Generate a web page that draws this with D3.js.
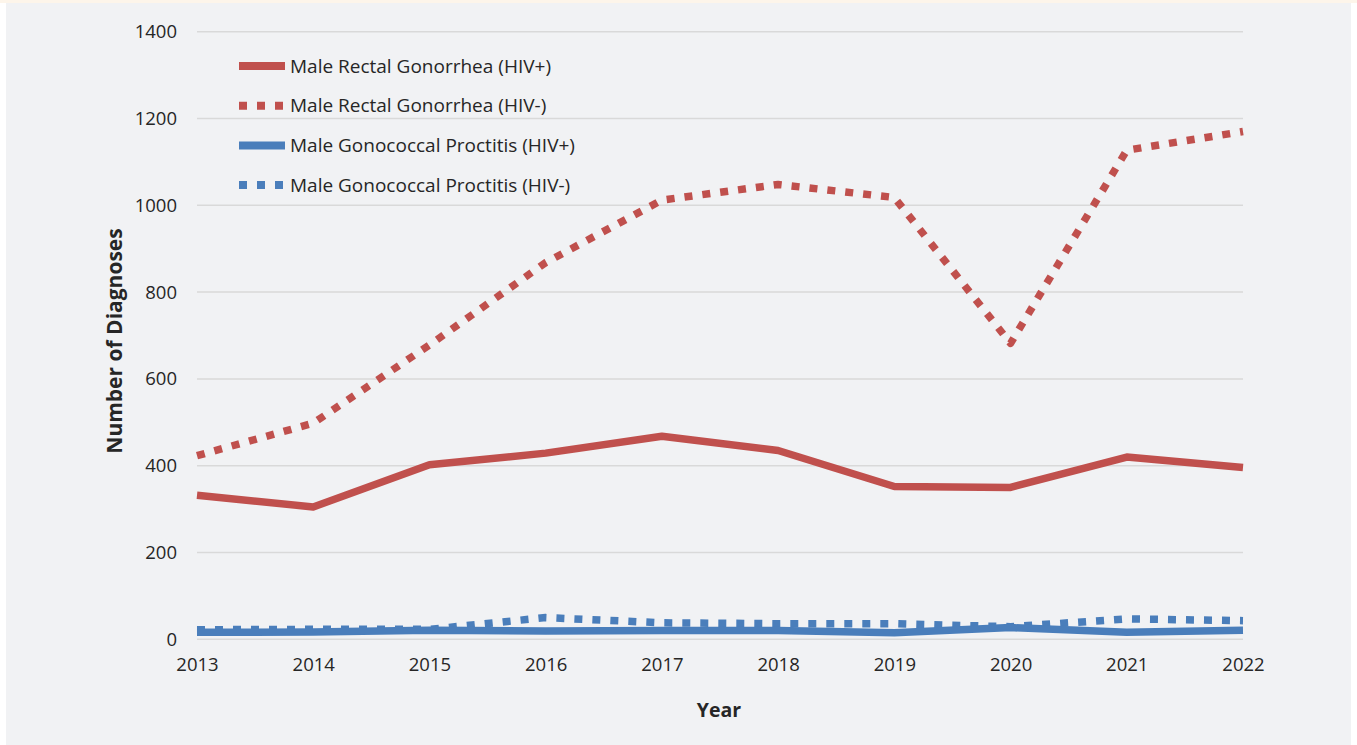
<!DOCTYPE html>
<html>
<head>
<meta charset="utf-8">
<script src="https://cdn.jsdelivr.net/npm/d3@7"></script>
<style>
  body { margin: 0; background: #ffffff; }
  text { font-family: "Open Sans", sans-serif; fill: #262626; }
</style>
</head>
<body>
<script>
// chart data
const years = [2013, 2014, 2015, 2016, 2017, 2018, 2019, 2020, 2021, 2022];
const rectalHivPos = [332, 305, 402, 429, 468, 435, 352, 350, 420, 396];
const rectalHivNeg = [423, 498, 678, 868, 1012, 1048, 1018, 682, 1127, 1170];
const proctitisHivPos = [16, 17, 21, 19, 20, 20, 15, 27, 16, 21];
const proctitisHivNeg = [22, 23, 23, 50, 38, 36, 36, 29, 47, 43];
const yTicks = [0, 200, 400, 600, 800, 1000, 1200, 1400];

const seriesNames = [
  'Male Rectal Gonorrhea (HIV+)',
  'Male Rectal Gonorrhea (HIV-)',
  'Male Gonococcal Proctitis (HIV+)',
  'Male Gonococcal Proctitis (HIV-)'
];

const series = [
  { name: seriesNames[0], values: rectalHivPos, color: '#c0504d', dotted: false },
  { name: seriesNames[1], values: rectalHivNeg, color: '#c0504d', dotted: true },
  { name: seriesNames[2], values: proctitisHivPos, color: '#4a7ebb', dotted: false },
  { name: seriesNames[3], values: proctitisHivNeg, color: '#4a7ebb', dotted: true }
];

const W = 1357, H = 745;
const margin = { top: 31.7, right: 114, bottom: 105.7, left: 197 };
const width = W - margin.left - margin.right,
  height = H - margin.top - margin.bottom;

const svg = d3.select('body').append('svg')
  .attr('width', W)
  .attr('height', H);

// background panel
svg.append('rect')
  .attr('x', 0).attr('y', 0).attr('width', W).attr('height', 3)
  .attr('fill', '#fdf5ea');
svg.append('rect')
  .attr('x', 6).attr('y', 3).attr('width', 1345).attr('height', 742)
  .attr('fill', '#f1f2f4');

const g = svg.append('g')
  .attr('transform', `translate(${margin.left},${margin.top})`);

// scales
const x = d3.scalePoint()
  .domain(years)
  .range([0, width]);
const y = d3.scaleLinear()
  .domain([0, 1400])
  .range([height, 0]);

// gridlines
g.append('g')
  .selectAll('line')
  .data(yTicks)
  .enter().append('line')
  .attr('x1', 0)
  .attr('x2', width)
  .attr('y1', d => y(d))
  .attr('y2', d => y(d))
  .attr('stroke', '#d9d9d9')
  .attr('stroke-width', 1.5);

// y axis labels
const yAxis = g.append('g')
  .call(d3.axisLeft(y).tickValues(yTicks).tickFormat(d3.format('d')).tickSize(0).tickPadding(20));
yAxis.select('.domain').remove();
yAxis.selectAll('text')
  .style('font-size', '18.5px')
  .style('font-family', '"Open Sans", sans-serif')
  .attr('fill', '#262626');

// x axis labels
const xAxis = g.append('g')
  .attr('transform', `translate(0,${height})`)
  .call(d3.axisBottom(x).tickSize(0).tickPadding(19));
xAxis.select('.domain').remove();
xAxis.selectAll('text')
  .style('font-size', '18.5px')
  .style('font-family', '"Open Sans", sans-serif')
  .attr('fill', '#262626');

// lines (dotted first so solid sits on top)
const line = d3.line()
  .x((d, i) => x(years[i]))
  .y(d => y(d));

const drawOrder = [series[1], series[0], series[3], series[2]];
g.selectAll('.series')
  .data(drawOrder)
  .enter().append('path')
  .attr('class', 'series')
  .attr('d', d => line(d.values))
  .attr('fill', 'none')
  .attr('stroke', d => d.color)
  .attr('stroke-width', 7.5)
  .attr('stroke-linejoin', 'round')
  .attr('stroke-dasharray', d => d.dotted ? '8,10' : null);

// legend
const legend = svg.append('g')
  .attr('transform', 'translate(239,66)');
const item = legend.selectAll('.item')
  .data(series)
  .enter().append('g')
  .attr('class', 'item')
  .attr('transform', (d, i) => `translate(0,${i * 39.7})`);
item.append('line')
  .attr('x1', 0).attr('x2', 46)
  .attr('y1', 0).attr('y2', 0)
  .attr('stroke', d => d.color)
  .attr('stroke-width', 8)
  .attr('stroke-dasharray', d => d.dotted ? '8,10' : null);
item.append('text')
  .attr('x', 51)
  .attr('y', 0)
  .attr('dy', '0.35em')
  .style('font-size', '19px')
  .text(d => d.name);

// axis titles
svg.append('text')
  .attr('transform', 'translate(122,341) rotate(-90)')
  .attr('text-anchor', 'middle')
  .style('font-size', '21px')
  .style('font-weight', 'bold')
  .text('Number of Diagnoses');

svg.append('text')
  .attr('x', 719)
  .attr('y', 717)
  .attr('text-anchor', 'middle')
  .style('font-size', '19.5px')
  .style('font-weight', 'bold')
  .text('Year');
</script>
</body>
</html>
